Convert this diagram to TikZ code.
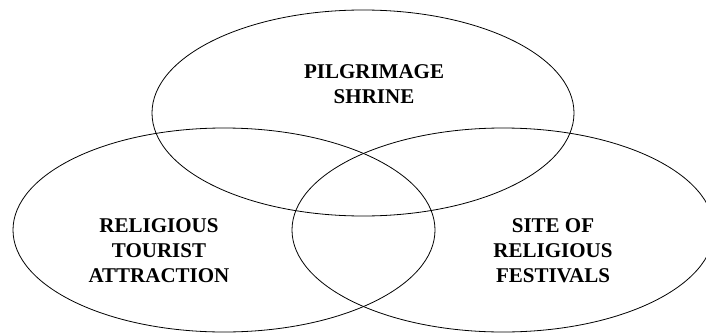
\documentclass[tikz,border=0pt]{standalone}
\usepackage{fontspec}
\setmainfont{Liberation Serif}
\usetikzlibrary{positioning}

\begin{document}
\begin{tikzpicture}[x=1pt,y=-1pt,
    circle line/.style={line width=0.8pt},
    label text/.style={align=center,inner sep=0pt,
      font=\fontsize{21}{25}\selectfont\bfseries}]
    \def\rx{211}
    \def\ry{102}
    \useasboundingbox (0,0) rectangle (706,332);

    \begin{scope}
      \clip (0,0) rectangle (706,332);
      \draw[circle line] (363,113) ellipse [x radius=\rx, y radius=103];
      \draw[circle line] (224,230) ellipse [x radius=\rx, y radius=\ry];
      \draw[circle line] (503,230) ellipse [x radius=\rx, y radius=\ry];
    \end{scope}

    % last baseline of each label
    \node[label text,anchor=base] (shrine) at (374,103)
      {PILGRIMAGE\\SHRINE};
    \node[label text,anchor=base] (tourist) at (159,282)
      {RELIGIOUS\\TOURIST\\ATTRACTION};
    \node[label text,anchor=base] (festivals) at (553,282)
      {SITE OF\\RELIGIOUS\\FESTIVALS};
\end{tikzpicture}
\end{document}
